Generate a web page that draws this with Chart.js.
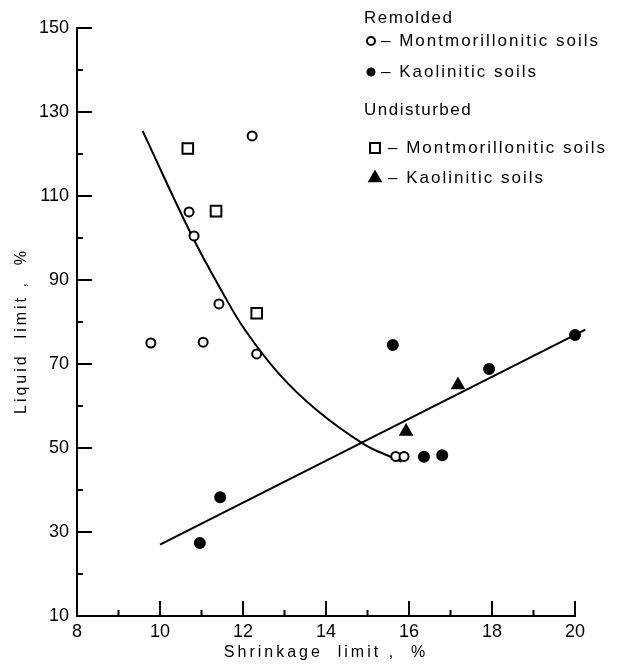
<!DOCTYPE html>
<html>
<head>
<meta charset="utf-8">
<script src="https://cdn.jsdelivr.net/npm/chart.js@4.4.1/dist/chart.umd.min.js"></script>
<style>
  html, body { margin: 0; padding: 0; background: #fff; }
</style>
</head>
<body>
<canvas id="chart" width="625" height="664"></canvas>
<script>
// Remolded soils
const remMontX = [9.78, 10.70, 10.82, 11.04, 11.42, 12.22, 12.33, 15.68, 15.88];
const remMontY = [75.0, 106.2, 100.5, 75.2, 84.3, 124.3, 72.4, 48.0, 48.0];
const remKaolX = [10.96, 11.45, 15.61, 16.36, 16.80, 17.93, 20.00, 20.02];
const remKaolY = [27.4, 38.3, 74.5, 47.9, 48.3, 68.8, 76.9, 74.0];

// Undisturbed soils
const undMontX = [10.67, 11.35, 12.33];
const undMontY = [121.3, 106.4, 82.1];
const undKaolX = [15.93, 17.18];
const undKaolY = [53.9, 65.0];

// fitted lines
const curveX = [9.58, 10.76, 11.52, 12.05, 12.89, 13.78, 14.90, 15.62, 15.82];
const curveY = [125.5, 100.7, 86.8, 78.1, 67.4, 59.0, 51.0, 47.6, 46.7];
const lineX = [10.0, 20.25];
const lineY = [27.0, 78.2];

const xLabels = [8, 10, 12, 14, 16, 18, 20];
const yLabels = [10, 30, 50, 70, 90, 110, 130, 150];

const pts = (xs, ys) => xs.map((x, i) => ({ x, y: ys[i] }));
const FONT = "'Liberation Sans', Arial, sans-serif";

const legendRows = [
  { head: "Remolded", y: 18 },
  { ds: 0, y: 41, mx: 371, r: 4, tx: 381 },
  { ds: 1, y: 72, mx: 371, r: 3.5, tx: 381 },
  { head: "Undisturbed", y: 110 },
  { ds: 2, y: 148, mx: 375, r: 7, tx: 388 },
  { ds: 3, y: 178, mx: 375, r: 6.5, tx: 388 },
];

const extras = {
  id: "extras",
  afterDraw(chart) {
    const { ctx, chartArea: a, scales: { x, y } } = chart;
    ctx.save();

    // inward ticks, long on labelled values
    ctx.strokeStyle = "#000";
    ctx.lineWidth = 2;
    ctx.beginPath();
    x.ticks.forEach(t => {
      if (t.value === x.min) return;
      const px = x.getPixelForValue(t.value);
      const len = xLabels.includes(t.value) ? 15 : 6;
      ctx.moveTo(px, a.bottom);
      ctx.lineTo(px, a.bottom - len);
    });
    y.ticks.forEach(t => {
      if (t.value === y.min) return;
      const py = y.getPixelForValue(t.value);
      const len = yLabels.includes(t.value) ? 15 : 6;
      ctx.moveTo(a.left, py);
      ctx.lineTo(a.left + len, py);
    });
    ctx.stroke();

    // axis titles
    ctx.fillStyle = "#000";
    ctx.font = "16px " + FONT;
    ctx.letterSpacing = "3px";
    ctx.textAlign = "center";
    ctx.textBaseline = "middle";
    ctx.fillText("Shrinkage  limit ,  %", (a.left + a.right) / 2, a.bottom + 37);
    ctx.save();
    ctx.translate(22, (a.top + a.bottom) / 2 + 9);
    ctx.rotate(-Math.PI / 2);
    ctx.fillText("Liquid  limit ,  %", 0, 0);
    ctx.restore();

    // legend
    ctx.textAlign = "left";
    ctx.font = "17px " + FONT;
    legendRows.forEach(row => {
      if (row.head) {
        ctx.letterSpacing = "1.5px";
        ctx.fillText(row.head, 364, row.y);
        return;
      }
      const ds = chart.data.datasets[row.ds];
      ctx.fillStyle = ds.backgroundColor;
      ctx.strokeStyle = "#000";
      ctx.lineWidth = 2;
      Chart.helpers.drawPoint(ctx, {
        pointStyle: ds.pointStyle, radius: row.r, rotation: 0, borderWidth: 2
      }, row.mx, row.y);
      ctx.fillStyle = "#000";
      ctx.letterSpacing = "2px";
      ctx.fillText("\u2013 " + ds.label, row.tx, row.y);
    });

    ctx.restore();
  }
};

const marker = (label, xs, ys, style, r, fill) => ({
  label,
  data: pts(xs, ys),
  pointStyle: style,
  pointRadius: r,
  pointHoverRadius: r,
  backgroundColor: fill,
  borderColor: "#000",
  borderWidth: 2,
  clip: false,
  order: 1,
});

const curve = (xs, ys, tension) => ({
  data: pts(xs, ys),
  showLine: true,
  pointRadius: 0,
  borderColor: "#000",
  borderWidth: 2,
  tension,
  clip: false,
  order: 2,
});

new Chart(document.getElementById("chart"), {
  type: "scatter",
  data: {
    datasets: [
      marker("Montmorillonitic soils", remMontX, remMontY, "circle", 4.5, "#fff"),
      marker("Kaolinitic soils", remKaolX, remKaolY, "circle", 5, "#000"),
      marker("Montmorillonitic soils", undMontX, undMontY, "rect", 7.5, "#fff"),
      marker("Kaolinitic soils", undKaolX, undKaolY, "triangle", 6.5, "#000"),
      curve(curveX, curveY, 0.4),
      curve(lineX, lineY, 0),
    ]
  },
  options: {
    responsive: false,
    animation: false,
    layout: { padding: { top: 28, right: 50, left: 0, bottom: 0 } },
    plugins: { legend: { display: false }, tooltip: { enabled: false } },
    scales: {
      x: {
        min: 8, max: 20,
        grid: { display: false, drawTicks: false },
        border: { display: true, color: "#000", width: 2 },
        ticks: {
          stepSize: 1, padding: 5, color: "#000", maxRotation: 0,
          autoSkip: false,
          font: { family: FONT, size: 18 },
          callback: v => xLabels.includes(v) ? v : ""
        },
        afterFit: s => { s.height = 48; }
      },
      y: {
        min: 10, max: 150,
        grid: { display: false, drawTicks: false },
        border: { display: true, color: "#000", width: 2 },
        ticks: {
          stepSize: 10, padding: 8, color: "#000",
          autoSkip: false,
          font: { family: FONT, size: 18 },
          callback: v => yLabels.includes(v) ? v : ""
        },
        afterFit: s => { s.width = 77; }
      }
    }
  },
  plugins: [extras]
});
</script>
</body>
</html>
